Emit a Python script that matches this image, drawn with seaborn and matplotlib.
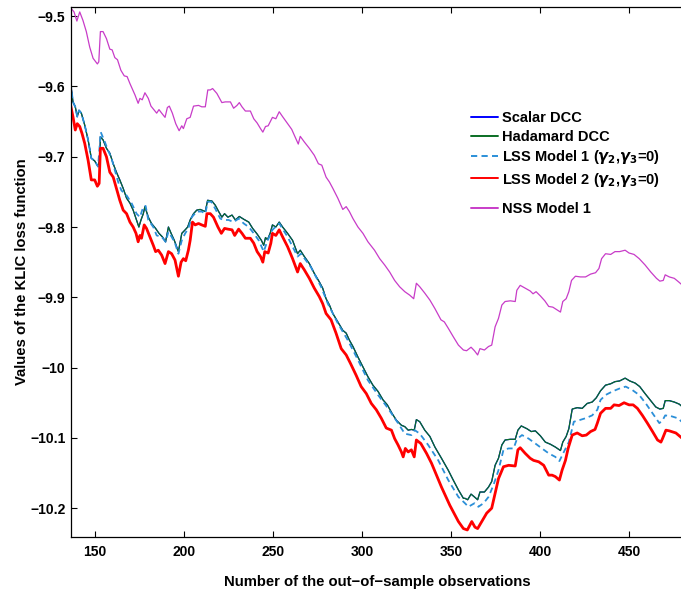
import matplotlib
matplotlib.use("Agg")
import matplotlib.pyplot as plt
import seaborn as sns
import pandas as pd

# ---------------- data ----------------
nss_x = [136.6, 138.2, 139.8, 141.4, 143.2, 145.1, 147.0, 148.9, 151.3, 152.1, 153.0, 154.5, 156.4, 158.3,
         159.6, 161.1, 162.6, 164.5, 166.4, 168.0, 169.6, 171.0, 172.4, 174.2, 175.2, 176.5, 178.0, 179.9,
         181.4, 183.3, 184.6, 185.9, 187.4, 189.3, 190.6, 191.7, 193.4, 195.3, 197.2, 198.7, 199.6, 201.5,
         203.4, 205.3, 208.1, 209.9, 211.9, 213.3, 214.7, 216.0, 218.4, 221.2, 223.1, 226.0, 227.8, 229.7,
         231.0, 232.5, 234.4, 237.2, 239.1, 241.0, 242.9, 244.2, 245.7, 247.2, 249.6, 251.5, 253.4, 255.3,
         258.1, 260.4, 261.8, 264.1, 265.2, 267.5, 270.3, 273.1, 275.4, 277.3, 279.7, 281.6, 283.5, 286.3,
         289.1, 291.0, 292.8, 294.8, 297.6, 300.4, 303.2, 306.9, 309.8, 312.6, 315.4, 318.2, 321.0, 323.9,
         326.7, 328.9, 330.4, 332.3, 335.1, 338.0, 340.8, 344.2, 346.1, 348.3, 351.1, 354.0, 356.8, 358.6,
         361.1, 363.0, 364.8, 366.1, 368.6, 370.9, 372.7, 374.6, 376.5, 378.4, 380.2, 383.1, 385.9, 386.8,
         388.7, 391.5, 394.3, 395.9, 397.6, 400.0, 402.5, 404.7, 407.0, 409.4, 411.3, 412.6, 414.5, 416.0,
         417.5, 419.7, 422.5, 425.4, 428.2, 431.0, 432.9, 434.4, 436.6, 439.5, 441.9, 444.5, 447.6, 449.8,
         452.6, 455.5, 458.8, 462.0, 465.2, 467.1, 469.0, 470.1, 472.4, 475.2, 477.6, 480.3]
nss_y = [-9.489, -9.494, -9.507, -9.494, -9.506, -9.522, -9.544, -9.560, -9.568, -9.565, -9.522, -9.522,
         -9.532, -9.547, -9.548, -9.559, -9.562, -9.577, -9.585, -9.586, -9.596, -9.604, -9.612, -9.624,
         -9.617, -9.619, -9.609, -9.617, -9.628, -9.634, -9.638, -9.633, -9.638, -9.644, -9.630, -9.628,
         -9.638, -9.653, -9.663, -9.656, -9.660, -9.646, -9.644, -9.628, -9.627, -9.629, -9.629, -9.605,
         -9.605, -9.603, -9.610, -9.623, -9.622, -9.622, -9.631, -9.627, -9.623, -9.629, -9.635, -9.635,
         -9.646, -9.652, -9.660, -9.665, -9.657, -9.656, -9.644, -9.646, -9.636, -9.643, -9.653, -9.661,
         -9.669, -9.682, -9.671, -9.679, -9.688, -9.698, -9.710, -9.712, -9.729, -9.736, -9.745, -9.759,
         -9.775, -9.771, -9.778, -9.788, -9.800, -9.809, -9.821, -9.833, -9.845, -9.854, -9.864, -9.876,
         -9.885, -9.892, -9.897, -9.902, -9.880, -9.885, -9.894, -9.904, -9.916, -9.932, -9.935, -9.944,
         -9.956, -9.968, -9.975, -9.976, -9.971, -9.976, -9.982, -9.973, -9.975, -9.970, -9.968, -9.942,
         -9.930, -9.911, -9.906, -9.905, -9.906, -9.890, -9.883, -9.887, -9.891, -9.895, -9.892, -9.898,
         -9.905, -9.913, -9.914, -9.918, -9.921, -9.906, -9.902, -9.892, -9.876, -9.870, -9.871, -9.871,
         -9.867, -9.865, -9.859, -9.845, -9.838, -9.839, -9.835, -9.835, -9.833, -9.837, -9.839, -9.845,
         -9.854, -9.864, -9.873, -9.877, -9.876, -9.868, -9.871, -9.873, -9.878, -9.884]

had_x = [136.3, 137.6, 138.9, 140.0, 141.0, 142.3, 144.2, 146.1, 147.9, 149.8, 151.7, 152.7, 153.0, 154.5,
         156.4, 158.3, 160.2, 162.0, 163.9, 165.8, 167.7, 169.6, 171.4, 173.3, 174.6, 175.8, 177.1, 178.0,
         179.9, 181.7, 184.0, 185.9, 187.8, 189.6, 191.2, 192.7, 194.5, 196.8, 198.7, 200.6, 202.0, 203.4,
         205.3, 207.1, 209.0, 211.9, 213.2, 215.6, 217.5, 219.4, 221.2, 222.7, 224.6, 226.9, 228.8, 231.0,
         233.5, 236.3, 238.5, 241.0, 243.4, 244.7, 245.7, 246.8, 248.3, 249.6, 251.5, 253.4, 255.3, 258.1,
         260.9, 263.7, 265.2, 267.5, 270.3, 273.1, 275.9, 277.8, 279.7, 281.6, 283.5, 286.3, 289.1, 291.0,
         292.8, 294.8, 297.6, 300.4, 303.2, 306.0, 308.9, 311.7, 314.1, 316.7, 319.2, 322.0, 323.9, 325.8,
         327.6, 329.2, 330.4, 332.3, 335.1, 338.0, 340.8, 344.5, 348.3, 351.1, 354.0, 356.8, 357.7, 359.2,
         361.1, 363.0, 364.8, 366.1, 368.6, 370.9, 372.7, 374.6, 376.5, 378.4, 380.2, 383.1, 385.9, 387.4,
         389.3, 392.5, 394.9, 397.2, 400.0, 402.8, 405.6, 408.4, 411.3, 412.6, 414.5, 416.0, 417.9, 420.7,
         423.5, 426.3, 429.1, 431.4, 433.8, 436.6, 439.5, 441.9, 444.5, 447.6, 450.2, 453.2, 455.8, 458.8,
         462.0, 464.8, 467.1, 469.0, 470.1, 472.4, 475.2, 478.0, 480.3]
had_y = [-9.595, -9.622, -9.629, -9.643, -9.634, -9.638, -9.655, -9.676, -9.702, -9.706, -9.714, -9.702,
         -9.672, -9.676, -9.688, -9.695, -9.710, -9.722, -9.733, -9.745, -9.759, -9.766, -9.776, -9.790,
         -9.800, -9.790, -9.781, -9.771, -9.786, -9.795, -9.802, -9.809, -9.814, -9.821, -9.800, -9.809,
         -9.819, -9.835, -9.809, -9.804, -9.800, -9.790, -9.781, -9.776, -9.775, -9.778, -9.762, -9.763,
         -9.769, -9.778, -9.786, -9.781, -9.786, -9.783, -9.790, -9.785, -9.789, -9.793, -9.802, -9.810,
         -9.819, -9.826, -9.815, -9.818, -9.809, -9.797, -9.800, -9.793, -9.800, -9.809, -9.819, -9.838,
         -9.833, -9.842, -9.852, -9.866, -9.878, -9.887, -9.902, -9.911, -9.923, -9.935, -9.947, -9.951,
         -9.961, -9.970, -9.985, -9.999, -10.013, -10.025, -10.034, -10.046, -10.053, -10.065, -10.075,
         -10.082, -10.084, -10.089, -10.088, -10.089, -10.074, -10.077, -10.089, -10.098, -10.113, -10.129,
         -10.146, -10.160, -10.174, -10.186, -10.186, -10.188, -10.180, -10.184, -10.188, -10.177, -10.177,
         -10.170, -10.162, -10.139, -10.129, -10.110, -10.103, -10.102, -10.102, -10.089, -10.083, -10.087,
         -10.091, -10.090, -10.097, -10.106, -10.109, -10.113, -10.118, -10.106, -10.098, -10.087, -10.059,
         -10.057, -10.058, -10.051, -10.049, -10.043, -10.033, -10.025, -10.023, -10.020, -10.019, -10.015,
         -10.019, -10.022, -10.027, -10.037, -10.047, -10.056, -10.059, -10.058, -10.047, -10.047, -10.049,
         -10.052, -10.057]

# Scalar DCC lies on top of Hadamard DCC in the picture
scalar_x = list(had_x)
scalar_y = list(had_y)

lss1_x = [136.3, 137.6, 138.9, 140.0, 141.0, 142.3, 144.2, 146.1, 147.9, 149.8, 151.7, 153.2, 155.5, 157.3,
          159.2, 161.1, 163.0, 164.8, 167.7, 170.5, 173.3, 175.2, 177.1, 178.4, 179.9, 182.7, 184.6, 187.4,
          189.6, 191.2, 193.0, 194.9, 196.8, 198.7, 200.6, 202.4, 204.3, 207.1, 209.9, 211.9, 213.3, 215.2,
          217.5, 220.3, 222.2, 225.0, 227.8, 230.6, 233.5, 236.3, 239.1, 241.9, 244.7, 246.6, 249.6, 253.4,
          258.1, 263.7, 265.6, 271.2, 276.9, 280.7, 286.3, 291.9, 297.6, 303.2, 308.9, 314.5, 320.1, 323.9,
          327.6, 329.5, 332.3, 337.0, 342.7, 348.3, 354.0, 357.7, 359.6, 363.0, 365.2, 368.1, 370.9, 373.7,
          376.5, 379.3, 382.2, 385.0, 386.8, 389.7, 393.4, 397.2, 400.9, 404.7, 408.4, 410.7, 413.2, 416.0,
          418.8, 421.6, 425.4, 429.1, 432.0, 433.8, 436.6, 440.4, 444.2, 447.9, 451.7, 455.5, 459.2, 463.0,
          466.8, 468.6, 470.1, 473.3, 477.1, 480.3]
lss1_y = [-9.595, -9.622, -9.629, -9.643, -9.634, -9.638, -9.655, -9.676, -9.702, -9.706, -9.714, -9.665,
          -9.679, -9.691, -9.702, -9.719, -9.736, -9.748, -9.755, -9.766, -9.781, -9.786, -9.771, -9.770,
          -9.790, -9.800, -9.812, -9.814, -9.821, -9.807, -9.814, -9.823, -9.838, -9.819, -9.809, -9.802,
          -9.786, -9.778, -9.778, -9.781, -9.764, -9.764, -9.774, -9.788, -9.790, -9.790, -9.793, -9.788,
          -9.795, -9.800, -9.809, -9.819, -9.835, -9.821, -9.804, -9.795, -9.814, -9.842, -9.838, -9.857,
          -9.885, -9.909, -9.937, -9.961, -9.989, -10.018, -10.039, -10.058, -10.079, -10.094, -10.096,
          -10.089, -10.094, -10.110, -10.132, -10.160, -10.184, -10.193, -10.198, -10.193, -10.198, -10.193,
          -10.184, -10.167, -10.146, -10.117, -10.115, -10.115, -10.102, -10.096, -10.101, -10.108, -10.115,
          -10.122, -10.127, -10.133, -10.120, -10.106, -10.077, -10.075, -10.072, -10.068, -10.060, -10.046,
          -10.039, -10.034, -10.030, -10.027, -10.032, -10.039, -10.051, -10.065, -10.079, -10.075, -10.068,
          -10.069, -10.072, -10.079]

lss2_x = [136.3, 137.6, 138.9, 140.0, 141.4, 142.7, 144.2, 146.1, 147.9, 149.8, 151.3, 152.3, 153.0, 154.5,
          156.4, 158.3, 160.2, 162.0, 163.9, 165.8, 167.7, 169.6, 171.4, 173.0, 174.2, 175.2, 176.1, 177.6,
          178.9, 180.8, 182.7, 184.0, 185.5, 187.4, 189.3, 191.2, 193.0, 194.9, 196.8, 198.3, 199.6, 200.9,
          202.4, 203.4, 204.7, 206.2, 208.1, 209.9, 211.9, 212.8, 214.7, 216.5, 219.0, 220.9, 222.7, 224.6,
          226.9, 228.4, 230.6, 232.5, 234.4, 237.2, 239.1, 241.0, 242.9, 244.2, 245.3, 247.2, 248.7, 249.6,
          251.5, 253.4, 255.3, 258.1, 260.9, 263.7, 265.2, 267.5, 270.3, 273.1, 275.9, 277.8, 279.7, 282.5,
          285.3, 288.2, 291.0, 293.4, 296.6, 299.4, 302.3, 305.1, 307.9, 310.7, 313.5, 316.4, 318.2, 320.1,
          322.0, 323.0, 324.2, 325.8, 327.6, 329.2, 330.4, 332.9, 336.1, 338.9, 341.7, 344.5, 347.4, 349.2,
          354.0, 356.8, 359.0, 361.5, 363.3, 364.8, 367.1, 369.9, 372.7, 374.6, 376.5, 379.3, 382.2, 385.9,
          387.4, 388.7, 391.5, 394.3, 396.2, 399.1, 401.9, 404.7, 406.6, 408.4, 410.7, 412.2, 414.1, 415.6,
          417.9, 420.7, 423.5, 425.8, 428.2, 430.7, 432.0, 433.8, 436.6, 439.5, 441.4, 444.2, 447.0, 449.8,
          452.1, 454.5, 457.3, 460.1, 463.0, 465.8, 467.7, 468.6, 470.5, 472.4, 476.1, 480.3]
lss2_y = [-9.627, -9.643, -9.662, -9.653, -9.657, -9.667, -9.681, -9.705, -9.733, -9.733, -9.742, -9.738,
          -9.688, -9.688, -9.700, -9.722, -9.729, -9.745, -9.762, -9.776, -9.781, -9.793, -9.800, -9.809,
          -9.821, -9.812, -9.816, -9.797, -9.802, -9.814, -9.826, -9.835, -9.833, -9.840, -9.852, -9.835,
          -9.838, -9.847, -9.870, -9.850, -9.845, -9.848, -9.833, -9.819, -9.793, -9.797, -9.795, -9.797,
          -9.799, -9.781, -9.781, -9.786, -9.800, -9.809, -9.802, -9.803, -9.804, -9.812, -9.803, -9.809,
          -9.816, -9.816, -9.823, -9.835, -9.842, -9.850, -9.835, -9.837, -9.823, -9.809, -9.812, -9.804,
          -9.814, -9.828, -9.845, -9.864, -9.852, -9.861, -9.873, -9.887, -9.899, -9.909, -9.923, -9.932,
          -9.951, -9.973, -9.982, -9.994, -10.011, -10.027, -10.037, -10.051, -10.060, -10.072, -10.086,
          -10.089, -10.101, -10.110, -10.120, -10.127, -10.115, -10.120, -10.117, -10.127, -10.103, -10.108,
          -10.122, -10.136, -10.153, -10.170, -10.186, -10.196, -10.219, -10.229, -10.231, -10.219, -10.227,
          -10.229, -10.219, -10.207, -10.200, -10.179, -10.158, -10.141, -10.139, -10.140, -10.117, -10.114,
          -10.122, -10.129, -10.132, -10.134, -10.139, -10.153, -10.153, -10.155, -10.160, -10.146, -10.132,
          -10.115, -10.096, -10.093, -10.097, -10.096, -10.091, -10.088, -10.079, -10.065, -10.058, -10.058,
          -10.053, -10.054, -10.050, -10.053, -10.053, -10.058, -10.068, -10.079, -10.091, -10.103, -10.106,
          -10.101, -10.089, -10.090, -10.093, -10.102]

x_ticks = [150, 200, 250, 300, 350, 400, 450]
y_ticks = [-9.5, -9.6, -9.7, -9.8, -9.9, -10.0, -10.1, -10.2]
y_tick_labels = ["\u22129.5", "\u22129.6", "\u22129.7", "\u22129.8", "\u22129.9", "\u221210", "\u221210.1", "\u221210.2"]

labels = ["Scalar DCC", "Hadamard DCC",
          r"LSS Model 1 ($\gamma_2$,$\gamma_3$=0)",
          r"LSS Model 2 ($\gamma_2$,$\gamma_3$=0)",
          "NSS Model 1"]
xlabel = "Number of the out\u2212of\u2212sample observations"
ylabel = "Values of the KLIC loss function"

# ---------------- plotting ----------------
sns.set_theme(style="ticks")
plt.rcParams["font.family"] = ["Liberation Sans", "DejaVu Sans"]
plt.rcParams["font.weight"] = "bold"
plt.rcParams["mathtext.fontset"] = "dejavusans"
for key in ["text.color", "axes.labelcolor", "xtick.color", "ytick.color", "axes.edgecolor"]:
    plt.rcParams[key] = "black"

fig = plt.figure(figsize=(6.81, 5.95), dpi=100)
ax = fig.add_axes([71 / 681, 1 - 537 / 595, 1 - 71 / 681 + 0.004, (537 - 7) / 595])

series = [
    (scalar_x, scalar_y, labels[0], dict(color="#0000ff", lw=0.9)),
    (had_x, had_y, labels[1], dict(color="#0a6e24", lw=0.9)),
    (lss1_x, lss1_y, labels[2], dict(color="#2b8fd8", lw=1.3, dashes=(3.2, 2.2))),
    (lss2_x, lss2_y, labels[3], dict(color="#ff0000", lw=2.0)),
    (nss_x, nss_y, labels[4], dict(color="#c83cc8", lw=0.9)),
]
for xs, ys, lab, kw in series:
    df = pd.DataFrame({"x": xs, "y": ys})
    dashes = kw.pop("dashes", None)
    line_ax = sns.lineplot(data=df, x="x", y="y", ax=ax, label=lab, estimator=None, sort=False, **kw)
    if dashes is not None:
        line_ax.lines[-1].set_dashes(dashes)

ax.set_xlim(136.5, 480.5)
ax.set_ylim(-10.241, -9.487)
ax.set_xticks(x_ticks)
ax.set_xticklabels([str(t) for t in x_ticks], fontsize=10, fontweight="bold")
ax.set_yticks(y_ticks)
ax.set_yticklabels(y_tick_labels, fontsize=10, fontweight="bold")
ax.tick_params(axis="both", direction="in", length=4.5, width=0.8, color="black")
ax.tick_params(axis="x", top=True, pad=6)
ax.tick_params(axis="y", right=False, pad=4)
for s in ["left", "top", "bottom"]:
    ax.spines[s].set_linewidth(0.9)
    ax.spines[s].set_color("black")
ax.spines["right"].set_visible(False)

ax.set_xlabel(xlabel, fontsize=10.7, fontweight="bold", labelpad=11)
ax.set_ylabel(ylabel, fontsize=10.7, fontweight="bold", labelpad=1)

handles, labs = ax.get_legend_handles_labels()
leg_kw = dict(loc="upper left", frameon=False, prop={"size": 10.5, "weight": "bold"},
              handlelength=1.85, handletextpad=0.3, labelspacing=0.3, borderaxespad=0)
leg1 = ax.legend(handles[:4], labs[:4], bbox_to_anchor=(0.643, 0.814), **leg_kw)
ax.add_artist(leg1)
leg2 = ax.legend(handles[4:], labs[4:], bbox_to_anchor=(0.643, 0.6425), **leg_kw)
for lg in (leg1, leg2):
    for h in lg.get_lines():
        h.set_linewidth(1.4)

fig.savefig("out.png", dpi=100)
